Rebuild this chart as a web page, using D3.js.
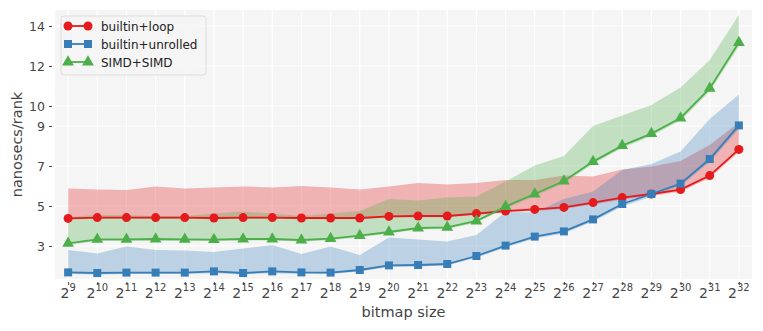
<!DOCTYPE html>
<html>
<head>
<meta charset="utf-8">
<script src="https://cdn.jsdelivr.net/npm/d3@7"></script>
<style>
  body { margin: 0; background: #fff; }
  text { font-family: "DejaVu Sans", sans-serif; }
</style>
</head>
<body>
<svg id="chart" width="763" height="331"></svg>
<script>
// exponents of the bitmap size (2^n)
const sizes = [9,10,11,12,13,14,15,16,17,18,19,20,21,22,23,24,25,26,27,28,29,30,31,32];

// builtin+loop
const loopMid = [4.38,4.42,4.42,4.42,4.42,4.4,4.42,4.42,4.4,4.4,4.4,4.48,4.5,4.5,4.62,4.75,4.83,4.93,5.17,5.42,5.6,5.82,6.52,7.83];
const loopHi  = [5.88,5.83,5.8,5.98,5.88,5.92,5.98,5.93,6.0,5.93,5.83,5.98,6.15,6.08,6.15,6.3,6.3,6.52,6.47,6.83,6.97,7.25,8.05,9.17];
const loopLo  = [4.32,4.36,4.36,4.36,4.36,4.34,4.36,4.36,4.34,4.34,4.34,4.42,4.44,4.44,4.55,4.68,4.75,4.85,5.08,5.32,5.5,5.72,6.4,7.7];

// builtin+unrolled
const unrolledMid = [1.68,1.65,1.67,1.67,1.67,1.73,1.65,1.73,1.68,1.67,1.8,2.03,2.05,2.1,2.5,3.02,3.47,3.73,4.33,5.1,5.6,6.12,7.35,9.03];
const unrolledHi  = [2.8,2.63,2.97,2.8,2.78,2.7,2.88,3.05,2.6,2.97,2.55,3.43,3.33,3.23,3.55,4.7,4.67,5.35,5.72,6.8,7.1,7.72,9.35,10.58];
const unrolledLo  = [1.6,1.58,1.6,1.6,1.6,1.64,1.58,1.64,1.6,1.6,1.72,1.95,1.97,2.02,2.42,2.92,3.37,3.63,4.22,4.98,5.48,6.0,7.2,8.85];

// SIMD+SIMD
const simdMid = [3.13,3.33,3.33,3.35,3.33,3.32,3.35,3.35,3.3,3.37,3.52,3.7,3.9,3.93,4.25,4.97,5.6,6.25,7.22,8.02,8.62,9.4,10.88,13.17];
const simdHi  = [4.45,4.55,4.55,4.5,4.5,4.63,4.72,4.63,4.5,4.63,4.75,5.35,5.27,5.43,5.48,6.22,7.02,7.5,9.0,9.53,10.05,10.92,12.3,14.55];
const simdLo  = [3.05,3.25,3.25,3.27,3.25,3.24,3.27,3.27,3.22,3.29,3.44,3.62,3.82,3.85,4.16,4.87,5.5,6.14,7.1,7.9,8.5,9.27,10.72,12.98];

const yTicks = [3,5,7,9,10,12,14];

const series = [
  { name: "builtin+loop", color: "#e41a1c", mid: loopMid, lo: loopLo, hi: loopHi, marker: d3.symbolCircle, msize: 64 },
  { name: "builtin+unrolled", color: "#377eb8", mid: unrolledMid, lo: unrolledLo, hi: unrolledHi, marker: d3.symbolSquare, msize: 64 },
  { name: "SIMD+SIMD", color: "#4daf4a", mid: simdMid, lo: simdLo, hi: simdHi, marker: d3.symbolTriangle, msize: 60 }
];

const margin = { top: 10, right: 11, bottom: 52, left: 55 },
      W = 763, H = 331,
      w = W - margin.left - margin.right,
      h = H - margin.top - margin.bottom;

const svg = d3.select("#chart");
const g = svg.append("g").attr("transform", `translate(${margin.left},${margin.top})`);

const x = d3.scaleLinear().domain([8.55, 32.45]).range([0, w]);
const y = d3.scaleLinear().domain([1.35, 14.8]).range([h, 0]);

// background + grid
g.append("rect").attr("width", w).attr("height", h).attr("fill", "#f5f5f5");
g.selectAll(".vgrid").data(sizes).join("line").attr("class", "vgrid")
  .attr("x1", d => x(d)).attr("x2", d => x(d)).attr("y1", 0).attr("y2", h)
  .attr("stroke", "#fff").attr("stroke-width", 1.2);
g.selectAll(".hgrid").data(yTicks).join("line").attr("class", "hgrid")
  .attr("x1", 0).attr("x2", w).attr("y1", d => y(d)).attr("y2", d => y(d))
  .attr("stroke", "#fff").attr("stroke-width", 1.2);

// bands
series.forEach(s => {
  const area = d3.area().x((d, i) => x(sizes[i])).y0((d, i) => y(s.lo[i])).y1((d, i) => y(s.hi[i]));
  g.append("path").datum(s.mid).attr("d", area).attr("fill", s.color).attr("fill-opacity", 0.3);
});

// lines + markers
series.forEach(s => {
  const line = d3.line().x((d, i) => x(sizes[i])).y(d => y(d));
  g.append("path").datum(s.mid).attr("d", line).attr("fill", "none")
    .attr("stroke", s.color).attr("stroke-width", 1.8);
  g.selectAll(null).data(s.mid).join("path")
    .attr("transform", (d, i) => `translate(${x(sizes[i])},${y(d)})`)
    .attr("d", d3.symbol().type(s.marker).size(s.msize))
    .attr("fill", s.color);
});

// y axis
const yAxis = g.append("g").attr("transform", "translate(-3,0)")
  .call(d3.axisLeft(y).tickValues(yTicks).tickSize(3).tickPadding(4));
yAxis.select(".domain").remove();
yAxis.selectAll("line").attr("stroke", "#444");
yAxis.selectAll("text").attr("fill", "#444").style("font-size", "12.5px");

// x axis with superscripts
const xAxis = g.append("g").attr("transform", `translate(0,${h + 3})`)
  .call(d3.axisBottom(x).tickValues(sizes).tickSize(3).tickFormat(""));
xAxis.select(".domain").remove();
xAxis.selectAll("line").attr("stroke", "#444");
const xl = g.selectAll(".xlab").data(sizes).join("text").attr("class", "xlab")
  .attr("x", d => x(d)).attr("y", h + 19).attr("text-anchor", "middle").attr("fill", "#444");
xl.append("tspan").style("font-size", "14px").text("2");
xl.append("tspan").attr("dy", -7).style("font-size", "10px").text(d => d);

// axis titles
svg.append("text").attr("x", margin.left + w / 2).attr("y", 317).attr("text-anchor", "middle")
  .attr("fill", "#444").style("font-size", "14.5px").text("bitmap size");
svg.append("text").attr("transform", `translate(22,${margin.top + h / 2}) rotate(-90)`)
  .attr("text-anchor", "middle").attr("fill", "#444").style("font-size", "14.5px").text("nanosecs/rank");

// legend
const lg = svg.append("g").attr("transform", "translate(61,16)");
lg.append("rect").attr("width", 145).attr("height", 59).attr("rx", 3)
  .attr("fill", "#f5f5f5").attr("fill-opacity", 0.85).attr("stroke", "#ddd");
series.forEach((s, i) => {
  const ly = 10 + i * 18;
  lg.append("line").attr("x1", 7).attr("x2", 27).attr("y1", ly).attr("y2", ly)
    .attr("stroke", s.color).attr("stroke-width", 1.8);
  [7, 27].forEach(px => lg.append("path")
    .attr("transform", `translate(${px},${ly})`)
    .attr("d", d3.symbol().type(s.marker).size(s.msize)).attr("fill", s.color));
  lg.append("text").attr("x", 40).attr("y", ly + 4.5).attr("fill", "#222")
    .style("font-size", "12px").text(s.name);
});
</script>
</body>
</html>
